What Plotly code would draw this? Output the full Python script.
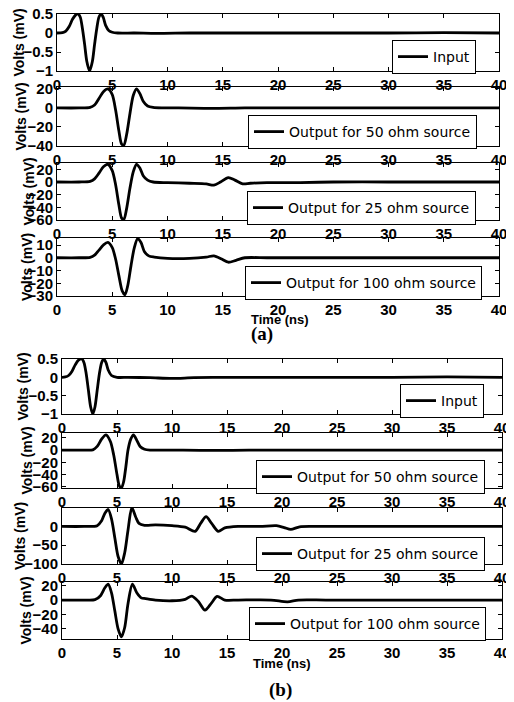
import plotly.graph_objects as go

# page body adds an 8px margin, so the figure is drawn 8px in and sized to fit
OFF = 8
W, H = 514 - OFF, 702 - OFF

# ---------------- data ----------------
a_in_t = [0, 0.5, 0.8, 1.1, 1.4, 1.7, 1.9, 2.1, 2.3, 2.5, 2.7, 2.95, 3.2, 3.4, 3.6, 3.8, 4.0, 4.2, 4.4, 4.7, 5.0, 5.5, 7, 9, 12, 15, 20, 25, 30, 35, 40]
a_in_v = [0, 0.01, 0.05, 0.17, 0.36, 0.48, 0.5, 0.42, 0.12, -0.3, -0.75, -1.0, -0.75, -0.3, 0.12, 0.42, 0.5, 0.4, 0.2, 0.06, 0.02, 0.0, 0.0, -0.01, 0.0, 0.0, 0.0, 0.0, 0.0, 0.01, 0.0]

a_50_t = [0, 2, 3.0, 3.4, 3.8, 4.2, 4.6, 5.0, 5.3, 5.6, 5.85, 6.05, 6.3, 6.6, 6.9, 7.2, 7.5, 7.8, 8.2, 8.7, 9.5, 11, 14, 17, 20, 25, 30, 35, 40]
a_50_v = [0, 0, 0.5, 3, 10, 17, 20, 14, -2, -24, -38, -39, -28, -6, 13, 20, 15, 7, 2, 0.5, 0, 0, -0.5, 0, 0, 0, 0, 0, 0]

a_25_t = [0, 2, 3.0, 3.4, 3.8, 4.2, 4.6, 5.0, 5.3, 5.6, 5.85, 6.05, 6.3, 6.6, 6.9, 7.2, 7.5, 7.8, 8.2, 8.7, 10, 12, 13.5, 14.2, 14.8, 15.5, 16.1, 16.8, 17.5, 19, 22, 25, 30, 35, 40]
a_25_v = [0, 0, 1, 5, 14, 24, 28, 18, -4, -36, -57, -59, -42, -10, 16, 28, 22, 10, 3, 0, -1, -2, -3, -5, 0, 7, 3, -3, -2, -1, -1, 0, 0, 0, 0]

a_100_t = [0, 2, 3.0, 3.4, 3.8, 4.2, 4.6, 5.0, 5.3, 5.6, 5.9, 6.15, 6.4, 6.7, 7.0, 7.3, 7.6, 7.9, 8.3, 8.8, 10, 12, 13.5, 14.2, 14.9, 15.5, 16.2, 17, 19, 22, 25, 30, 35, 40]
a_100_v = [0, 0, 0.3, 2, 6, 10, 12, 8, -1, -14, -26, -29, -22, -6, 8, 15, 12, 5, 1.5, 0.5, -0.5, -0.5, 0.5, 1.5, -1, -3.5, -2, 0, 0, 0, 0, 0, 0, 0]

b_in_t = [0, 0.3, 0.6, 0.9, 1.2, 1.5, 1.8, 2.0, 2.2, 2.4, 2.6, 2.8, 3.0, 3.2, 3.4, 3.6, 3.8, 4.0, 4.2, 4.5, 5.0, 6, 8, 10, 12, 15, 20, 25, 30, 35, 40]
b_in_v = [0, 0.01, 0.05, 0.16, 0.34, 0.47, 0.5, 0.4, 0.1, -0.35, -0.8, -1.0, -0.8, -0.35, 0.1, 0.4, 0.5, 0.4, 0.2, 0.05, 0.0, 0.0, -0.01, -0.03, -0.01, 0.0, 0.0, 0.0, 0.0, 0.01, 0.0]

b_50_t = [0, 2, 2.8, 3.2, 3.6, 4.0, 4.4, 4.7, 5.0, 5.2, 5.4, 5.6, 5.8, 6.0, 6.25, 6.5, 6.8, 7.1, 7.5, 8.0, 9, 11, 14, 17, 20, 25, 30, 35, 40]
b_50_v = [0, 0, 0.5, 6, 18, 25, 14, -8, -40, -58, -62, -52, -28, 0, 18, 25, 16, 6, 1.5, 0, 0, 0, -0.5, 0, 0, 0, 0, 0, 0]

b_25_t = [0, 2, 3.2, 3.6, 3.9, 4.2, 4.5, 4.8, 5.1, 5.4, 5.7, 6.0, 6.35, 6.7, 7.0, 7.5, 8.5, 10, 11.2, 12.1, 12.6, 13.1, 13.6, 14.2, 14.8, 16, 18, 19.5, 20.2, 20.8, 21.6, 23, 26, 30, 35, 40]
b_25_v = [0, 0, 2, 15, 35, 45, 20, -30, -80, -100, -70, -10, 50, 25, 8, 3, 4, 2, -2, -13, 8, 26, 8, -13, -4, 0, 0, 2, -3, -8, -1, 0, 0, 0, 0, 0]

b_100_t = [0, 2, 3.0, 3.5, 3.9, 4.2, 4.5, 4.8, 5.1, 5.4, 5.7, 6.0, 6.4, 6.8, 7.2, 7.6, 8.5, 10, 11.2, 11.8, 12.4, 13.0, 13.6, 14.1, 14.8, 16, 19, 20.5, 21.5, 24, 30, 35, 40]
b_100_v = [0, 0, 0.5, 6, 17, 22, 10, -15, -40, -51, -38, -5, 22, 10, 3, 2, 0, -1, 1, 5.5, -2, -14, -4, 5, 0, 0, 0, -2.5, 0, 0, 0, 0, 0]

series_t = [a_in_t, a_50_t, a_25_t, a_100_t, b_in_t, b_50_t, b_25_t, b_100_t]
series_v = [a_in_v, a_50_v, a_25_v, a_100_v, b_in_v, b_50_v, b_25_v, b_100_v]
series_names = ["Input", "Output for 50 ohm source", "Output for 25 ohm source",
                "Output for 100 ohm source", "Input", "Output for 50 ohm source",
                "Output for 25 ohm source", "Output for 100 ohm source"]

x_ticks = [0, 5, 10, 15, 20, 25, 30, 35, 40]
y_ticks = [[-1, -0.5, 0, 0.5], [-40, -20, 0, 20], [-60, -40, -20, 0, 20], [-30, -20, -10, 0, 10],
           [-1, -0.5, 0, 0.5], [-60, -40, -20, 0, 20], [-100, -50, 0, 50], [-40, -20, 0, 20]]
y_ranges = [[-1, 0.5], [-40, 22], [-60, 30], [-30, 15.5],
            [-1, 0.5], [-62, 28], [-100, 49], [-54, 25]]
y_title = "Volts (mV)"
x_title = "Time (ns)"

# ---------------- layout (pixel geometry in window coordinates) ----------------
plot_px = [(57, 499, 14, 71), (57, 499, 87, 146), (57, 499, 163, 220), (57, 499, 238, 296),
           (62, 502, 359, 414), (62, 502, 433, 488), (62, 502, 508, 564), (62, 502, 582, 639)]
legend_px = [(476, 40), (477, 115), (476, 191), (482, 266),
             (484, 384), (485, 460), (485, 537), (486, 607)]
ytitle_x = [18, 20, 28, 27, 22, 27, 20, 25]


def px(x):
    return (x - OFF) / W


def py(y):
    return 1 - (y - OFF) / H


SANS = "Liberation Sans, Arial, sans-serif"
BOLD = dict(family=SANS, size=15, color="black", weight="bold")
TITLE = dict(family=SANS, size=14, color="black", weight="bold")

fig = go.Figure()
layout = dict(width=W, height=H, margin=dict(l=0, r=0, t=0, b=0),
              paper_bgcolor="white", plot_bgcolor="white", showlegend=True)
annotations = []

for i in range(8):
    n = "" if i == 0 else str(i + 1)
    x0, x1, y0, y1 = plot_px[i]
    fig.add_trace(go.Scatter(x=series_t[i], y=series_v[i], mode="lines", name=series_names[i],
                             line=dict(color="black", width=2.8, shape="spline", smoothing=0.8),
                             xaxis="x" + n, yaxis="y" + n, legend="legend" + n))
    layout["xaxis" + n] = dict(domain=[px(x0), px(x1)], range=[0, 40], anchor="y" + n,
                               tickvals=x_ticks, ticks="inside", ticklen=4, tickcolor="black",
                               showline=True, linecolor="black", linewidth=1, mirror="ticks",
                               showgrid=False, zeroline=False, tickfont=BOLD, automargin=False,
                               ticklabeloverflow="allow")
    layout["yaxis" + n] = dict(domain=[py(y1), py(y0)], range=y_ranges[i], anchor="x" + n,
                               tickvals=y_ticks[i], ticks="inside", ticklen=4, tickcolor="black",
                               showline=True, linecolor="black", linewidth=1, mirror="ticks",
                               showgrid=False, zeroline=False, tickfont=BOLD, automargin=False,
                               ticklabeloverflow="allow")
    lx, ly = legend_px[i]
    layout["legend" + n] = dict(x=px(lx), y=py(ly), xanchor="right", yanchor="top",
                                xref="paper", yref="paper",
                                bordercolor="black", borderwidth=1, bgcolor="white",
                                font=dict(family="DejaVu Sans, sans-serif", size=14, color="black"),
                                tracegroupgap=0, itemwidth=30)
    annotations.append(dict(text=y_title, x=px(ytitle_x[i]), y=py((y0 + y1) / 2),
                            xref="paper", yref="paper", showarrow=False, textangle=-90,
                            xanchor="center", yanchor="middle", font=TITLE))

annotations.append(dict(text=x_title, x=px(280), y=py(319), xref="paper", yref="paper",
                        showarrow=False, xanchor="center", yanchor="middle",
                        font=dict(family=SANS, size=13, color="black", weight="bold")))
annotations.append(dict(text="(a)", x=px(262), y=py(334), xref="paper", yref="paper",
                        showarrow=False, xanchor="center", yanchor="middle",
                        font=dict(family="Liberation Serif, Times New Roman, serif", size=19, color="black", weight="bold")))
annotations.append(dict(text=x_title, x=px(282), y=py(663), xref="paper", yref="paper",
                        showarrow=False, xanchor="center", yanchor="middle",
                        font=dict(family=SANS, size=13, color="black", weight="bold")))
annotations.append(dict(text="(b)", x=px(280), y=py(690), xref="paper", yref="paper",
                        showarrow=False, xanchor="center", yanchor="middle",
                        font=dict(family="Liberation Serif, Times New Roman, serif", size=19, color="black", weight="bold")))

layout["annotations"] = annotations
fig.update_layout(**layout)
fig.write_html("out.html")
